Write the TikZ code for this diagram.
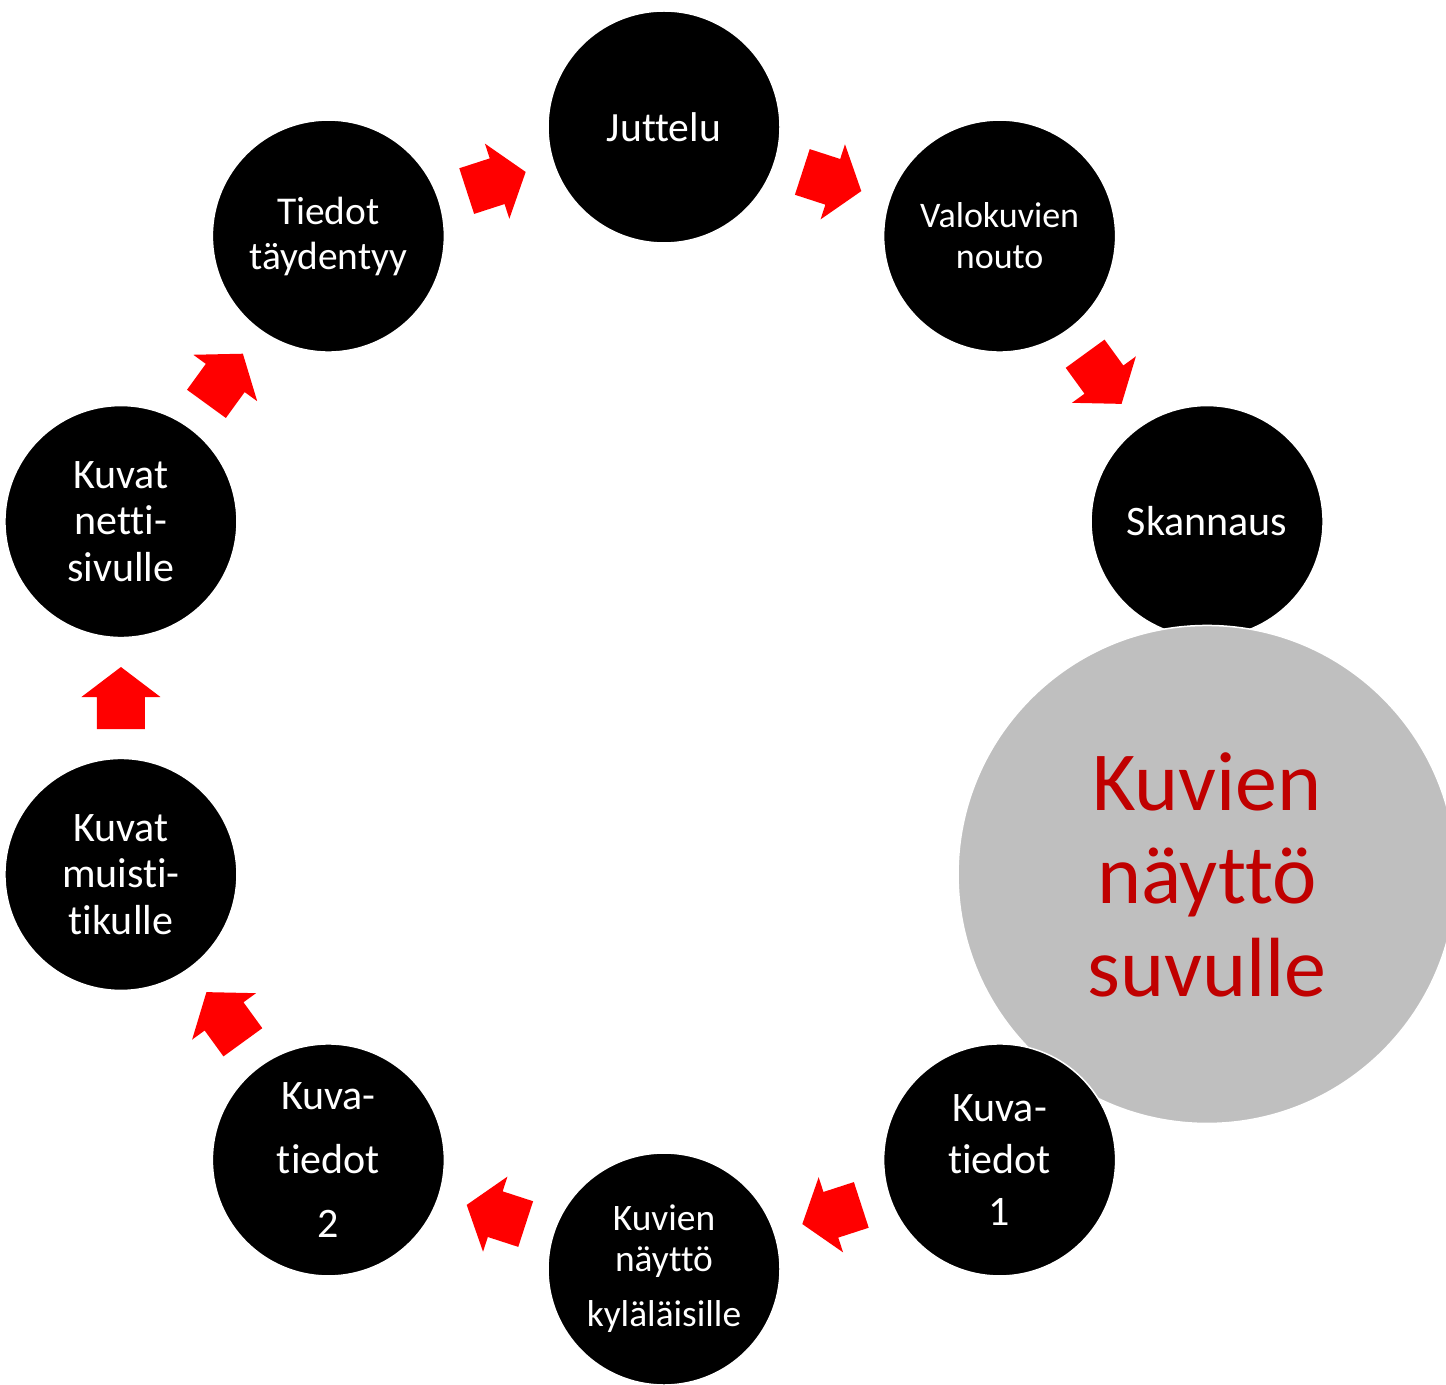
\documentclass[tikz,border=0pt]{standalone}
\usepackage{fontspec}
\setmainfont{Carlito}[Ligatures=NoCommon]
\usetikzlibrary{calc}
\definecolor{arrowred}{HTML}{FF0000}
\definecolor{txtred}{HTML}{C00000}
\definecolor{bubblegray}{HTML}{BFBFBF}
\begin{document}
\begin{tikzpicture}[x=0.5pt,y=0.5pt,
  stage/.style={circle, fill=black, draw=white, line width=0.75pt, minimum size=116pt, inner sep=0pt, text=white, align=center, font=\fontsize{21}{23.25}\selectfont},
  hub/.style={circle, fill=bubblegray, draw=white, line width=0.75pt, minimum size=249pt, inner sep=0pt, text=txtred, align=center, font=\fontsize{42}{46.5}\selectfont},
  flowarrow/.pic={\fill[arrowred] (-31,-24) -- (1,-24) -- (1,-39.5) -- (31,0) -- (1,39.5) -- (1,24) -- (-31,24) -- cycle;}
]
\useasboundingbox (0,0) rectangle (1446,-1385);
\coordinate (C) at (664,-698);
\node[stage, font=\fontsize{20.8}{23}\selectfont] (j) at ($(C)+(90:571)$) {Juttelu};
\node[stage, font=\fontsize{18}{20.5}\selectfont] (v) at ($(C)+(54:571)$) {Valokuvien\\nouto};
\node[stage] (s) at ($(C)+(18:571)$) {Skannaus};
\node[hub] (hub) at ($(C)+(-18:571)$) {Kuvien\\näyttö\\suvulle};
\node[stage, font=\fontsize{21}{26}\selectfont] (k1) at ($(C)+(-54:571)$) {Kuva-\\tiedot\\1};
\node[stage, font=\fontsize{18.7}{20.5}\selectfont] (ky) at ($(C)+(-90:571)$) {Kuvien\\näyttö\\[7pt]kyläläisille};
\node[stage, font=\fontsize{21}{32}\selectfont] (k2) at ($(C)+(-126:571)$) {Kuva-\\tiedot\\2};
\node[stage] (mu) at ($(C)+(-162:571)$) {Kuvat\\muisti-\\tikulle};
\node[stage] (ne) at ($(C)+(162:571)$) {Kuvat\\netti-\\sivulle};
\node[stage, font=\fontsize{19.7}{22.5}\selectfont] (ti) at ($(C)+(126:571)$) {Tiedot\\täydentyy};
\pic[rotate=18] at ($(ti)!0.5!(j)$) {flowarrow};
\pic[rotate=-18] at ($(j)!0.5!(v)$) {flowarrow};
\pic[rotate=-54] at ($(v)!0.5!(s)$) {flowarrow};
\pic[rotate=-162] at ($(k1)!0.5!(ky)$) {flowarrow};
\pic[rotate=162] at ($(ky)!0.5!(k2)$) {flowarrow};
\pic[rotate=126] at ($(k2)!0.5!(mu)$) {flowarrow};
\pic[rotate=90] at ($(mu)!0.5!(ne)$) {flowarrow};
\pic[rotate=54] at ($(ne)!0.5!(ti)$) {flowarrow};
\end{tikzpicture}
\end{document}
